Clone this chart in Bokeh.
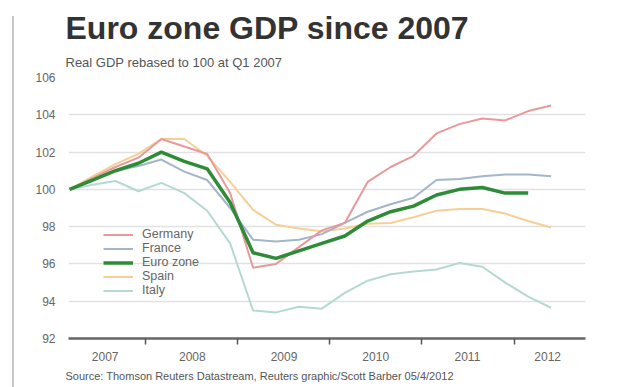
from bokeh.plotting import figure
from bokeh.models import (Range1d, FixedTicker, Legend, LegendItem, Title, Div)
from bokeh.layouts import row
from bokeh.embed import file_html
from bokeh.resources import INLINE

# ---- data (quarterly, Q1 2007 = 100) ----
quarters = list(range(22))          # Q1 2007 .. Q2 2012
years = ["2007", "2008", "2009", "2010", "2011", "2012"]
y_ticks = [92, 94, 96, 98, 100, 102, 104, 106]

germany = [100, 100.6, 101.2, 101.7, 102.7, 102.3, 101.9, 99.8, 95.8, 96.0, 96.9,
           97.8, 98.2, 100.4, 101.2, 101.8, 103.0, 103.5, 103.8, 103.7, 104.2, 104.5]
france = [100, 100.5, 101.0, 101.25, 101.6, 100.95, 100.5, 99.0, 97.3, 97.2, 97.3,
          97.6, 98.2, 98.8, 99.2, 99.55, 100.5, 100.55, 100.7, 100.8, 100.8, 100.7]
euro_zone = [100, 100.5, 101.0, 101.4, 102.0, 101.5, 101.1, 99.3, 96.6, 96.3, 96.7,
             97.1, 97.5, 98.3, 98.8, 99.1, 99.7, 100.0, 100.1, 99.8, 99.8]
spain = [100, 100.7, 101.35, 101.9, 102.7, 102.7, 101.8, 100.4, 98.9, 98.1, 97.9,
         97.75, 97.9, 98.15, 98.2, 98.5, 98.85, 98.95, 98.95, 98.7, 98.3, 97.95]
italy = [100, 100.25, 100.45, 99.9, 100.35, 99.8, 98.85, 97.1, 93.5, 93.4, 93.7,
         93.6, 94.45, 95.1, 95.45, 95.6, 95.7, 96.05, 95.85, 95.0, 94.25, 93.65]

FONT = "Liberation Sans"

p = figure(width=618, height=387, output_backend="svg", toolbar_location=None,
           x_range=Range1d(-0.05, 22.5), y_range=Range1d(92, 106),
           min_border_left=54, min_border_right=47, min_border_top=77,
           min_border_bottom=49, title=None)
p.outline_line_color = None
p.background_fill_color = "white"
p.border_fill_color = "white"

# titles
sub = Title(text="Real GDP rebased to 100 at Q1 2007", text_font=FONT,
            text_font_size="13px", text_font_style="normal", text_color="#555555",
            align="left", offset=-3, standoff=15)
main = Title(text="Euro zone GDP since 2007", text_font=FONT,
             text_font_size="32px", text_font_style="bold", text_color="#333333",
             align="left", offset=-3, standoff=0)
p.add_layout(sub, "above")
p.add_layout(main, "above")

src = Title(text="Source: Thomson Reuters Datastream, Reuters graphic/Scott Barber 05/4/2012",
            text_font=FONT, text_font_size="11px", text_font_style="normal",
            text_color="#555555", align="left", offset=-3, standoff=9)
p.add_layout(src, "below")

# series
r_it = p.line(quarters[:len(italy)], italy, line_color="#b5d9d2", line_width=2)
r_es = p.line(quarters[:len(spain)], spain, line_color="#f6cf95", line_width=2)
r_fr = p.line(quarters[:len(france)], france, line_color="#a3b5c9", line_width=2)
r_de = p.line(quarters[:len(germany)], germany, line_color="#e8999b", line_width=2)
r_ez = p.line(quarters[:len(euro_zone)], euro_zone, line_color="#2e8b37", line_width=3.5)

# grid
p.xgrid.grid_line_color = None
p.ygrid.ticker = FixedTicker(ticks=y_ticks)
p.ygrid.grid_line_color = "#e2e2e2"
p.ygrid.grid_line_width = 1.5

# y axis
p.yaxis.ticker = FixedTicker(ticks=y_ticks)
p.yaxis.axis_line_color = None
p.yaxis.major_tick_line_color = None
p.yaxis.minor_tick_line_color = None
p.yaxis.major_tick_out = 0
p.yaxis.major_label_standoff = 13
p.yaxis.major_label_text_font = FONT
p.yaxis.major_label_text_font_size = "12px"
p.yaxis.major_label_text_color = "#666666"

# x axis: labels centred in each year, tick marks at year boundaries
label_pos = [1.55, 5.35, 9.35, 13.35, 17.35, 20.85]
boundary_pos = [3.3, 7.3, 11.35, 15.35, 19.4]
p.xaxis.ticker = FixedTicker(ticks=label_pos, minor_ticks=boundary_pos)
p.xaxis.major_label_overrides = {pos: yr for pos, yr in zip(label_pos, years)}
p.xaxis.major_tick_line_color = None
p.xaxis.major_tick_out = 0
p.xaxis.major_tick_in = 0
p.xaxis.minor_tick_line_color = "#555555"
p.xaxis.minor_tick_line_width = 1.5
p.xaxis.minor_tick_out = 6
p.xaxis.minor_tick_in = 0
p.xaxis.axis_line_color = "#666666"
p.xaxis.axis_line_width = 2.5
p.xaxis.major_label_standoff = 7
p.xaxis.major_label_text_font = FONT
p.xaxis.major_label_text_font_size = "12px"
p.xaxis.major_label_text_color = "#666666"

legend = Legend(items=[
    LegendItem(label="Germany", renderers=[r_de]),
    LegendItem(label="France", renderers=[r_fr]),
    LegendItem(label="Euro zone", renderers=[r_ez]),
    LegendItem(label="Spain", renderers=[r_es]),
    LegendItem(label="Italy", renderers=[r_it]),
], location=(35, 41))
legend.background_fill_alpha = 0
legend.border_line_alpha = 0
legend.padding = 0
legend.margin = 0
legend.spacing = 0
legend.glyph_width = 30
legend.glyph_height = 13
legend.label_height = 13
legend.label_standoff = 9
legend.label_text_font = FONT
legend.label_text_font_size = "12.5px"
legend.label_text_color = "#666666"
p.add_layout(legend)

left_rule = Div(text="", width=2, height=371, margin=(16, 0, 0, 12),
                styles={"background-color": "#c8c8c8"})

layout = row(left_rule, p)

open("out.html", "w").write(file_html(layout, INLINE))
